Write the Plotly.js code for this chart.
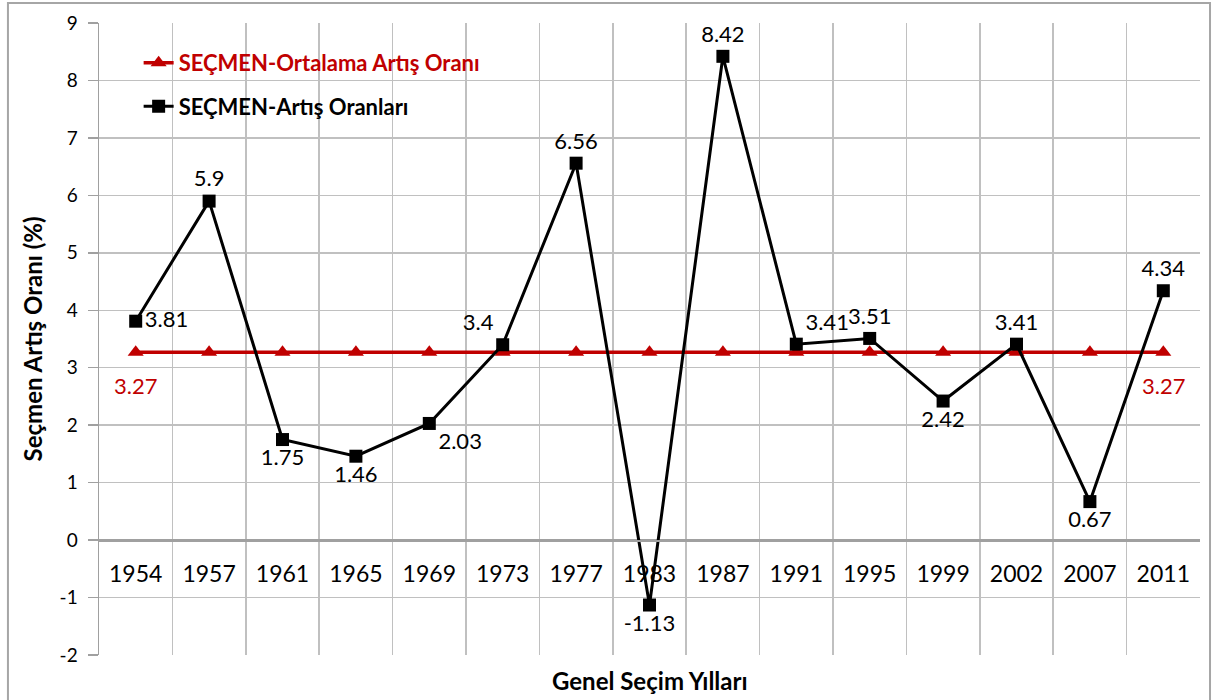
<!DOCTYPE html>
<html>
<head>
<meta charset="utf-8">
<script src="https://cdn.plot.ly/plotly-3.0.1.min.js"></script>
<style>html,body{margin:0;padding:0;background:#fff;}#chart{width:1212px;height:700px;}</style>
</head>
<body>
<div id="chart"></div>
<script>
const years = ['1954','1957','1961','1965','1969','1973','1977','1983','1987','1991','1995','1999','2002','2007','2011'];
const rates = [3.81, 5.9, 1.75, 1.46, 2.03, 3.4, 6.56, -1.13, 8.42, 3.41, 3.51, 2.42, 3.41, 0.67, 4.34];
const avgRate = [3.27, 3.27, 3.27, 3.27, 3.27, 3.27, 3.27, 3.27, 3.27, 3.27, 3.27, 3.27, 3.27, 3.27, 3.27];
const yTicks = [-2, -1, 0, 1, 2, 3, 4, 5, 6, 7, 8, 9];
const rateLabelPos = ['middle right','top center','bottom center','bottom center','bottom right','top left','top center','bottom center','top center','top right','top center','bottom center','top center','bottom center','top center'];
const avgName = 'SEÇMEN-Ortalama Artış Oranı';
const rateName = 'SEÇMEN-Artış Oranları';
const xTitle = 'Genel Seçim Yılları';
const yTitle = 'Seçmen Artış Oranı (%)';

const RED = '#C00000';
const FONT = 'Lato, "Noto Sans", sans-serif';

// red value labels only at the first and last point (x = category index on the category axis)
const avgLabelIdx = [0, avgRate.length - 1];
const avgAnnotations = avgLabelIdx.map(i => ({
  x: i, y: avgRate[i], xref: 'x', yref: 'y', text: String(avgRate[i]),
  showarrow: false, yshift: -33, xanchor: 'center', yanchor: 'middle',
  font: {family: FONT, size: 22, color: RED}
}));

const traces = [
  {
    x: years, y: avgRate, type: 'scatter', mode: 'lines+markers',
    name: '<span style="color:' + RED + '">' + avgName + '</span>',
    legendgroup: 'a',
    line: {color: RED, width: 3.5},
    marker: {symbol: 'triangle-up', size: 14, color: RED},
    hoverinfo: 'x+y'
  },
  {
    x: years, y: rates, type: 'scatter', mode: 'lines+markers+text',
    name: rateName,
    legendgroup: 'b',
    line: {color: '#000000', width: 3},
    marker: {symbol: 'square', size: 13, color: '#000000'},
    text: rates.map(v => String(v)), textposition: rateLabelPos,
    textfont: {family: FONT, size: 22, color: '#000000'},
    hoverinfo: 'x+y'
  }
];

const layout = {
  width: 1212, height: 700,
  margin: {l: 99, r: 12, t: 23, b: 45},
  paper_bgcolor: '#ffffff', plot_bgcolor: '#ffffff',
  font: {family: FONT, color: '#000000'},
  showlegend: true,
  legend: {
    x: 0.036, y: 0.97, xanchor: 'left', yanchor: 'top',
    bgcolor: 'rgba(0,0,0,0)', borderwidth: 0,
    traceorder: 'grouped', tracegroupgap: 12,
    font: {family: FONT, size: 22, weight: 'bold', color: '#000000'}
  },
  xaxis: {
    type: 'category', range: [-0.5, 14.5],
    anchor: 'free', position: 2 / 11,
    tickson: 'boundaries', ticks: '', showgrid: true, gridcolor: '#C0C0C0', gridwidth: 1.5,
    showline: true, linecolor: '#A0A0A0', linewidth: 1.5,
    tickfont: {family: FONT, size: 23, color: '#000000'},
    ticklabelstandoff: 13,
    fixedrange: true
  },
  yaxis: {
    range: [-2, 9], tickmode: 'array', tickvals: yTicks, ticktext: yTicks.map(v => String(v)),
    ticks: 'outside', ticklen: 10, tickcolor: '#A0A0A0', tickwidth: 1.5,
    showgrid: true, gridcolor: '#C0C0C0', gridwidth: 1.5,
    zeroline: true, zerolinecolor: '#A0A0A0', zerolinewidth: 1.5,
    showline: true, linecolor: '#A0A0A0', linewidth: 1.5,
    tickfont: {family: FONT, size: 19, color: '#000000'},
    ticklabelstandoff: 6,
    title: {text: yTitle, standoff: 10, font: {family: FONT, size: 24, weight: 'bold', color: '#000000'}},
    fixedrange: true
  },
  annotations: [
    {text: xTitle, xref: 'paper', yref: 'paper', x: 0.5, y: -0.04, xanchor: 'center', yanchor: 'middle',
     showarrow: false, font: {family: FONT, size: 24, weight: 'bold', color: '#000000'}}
  ].concat(avgAnnotations),
  shapes: [
    {type: 'rect', xref: 'paper', yref: 'paper', x0: -0.0827, x1: 1.0091, y0: -0.2, y1: 1.0316,
     line: {color: '#A6A6A6', width: 2}, fillcolor: 'rgba(0,0,0,0)', layer: 'below'}
  ]
};

Plotly.newPlot('chart', traces, layout, {displayModeBar: false, staticPlot: true});
</script>
</body>
</html>
